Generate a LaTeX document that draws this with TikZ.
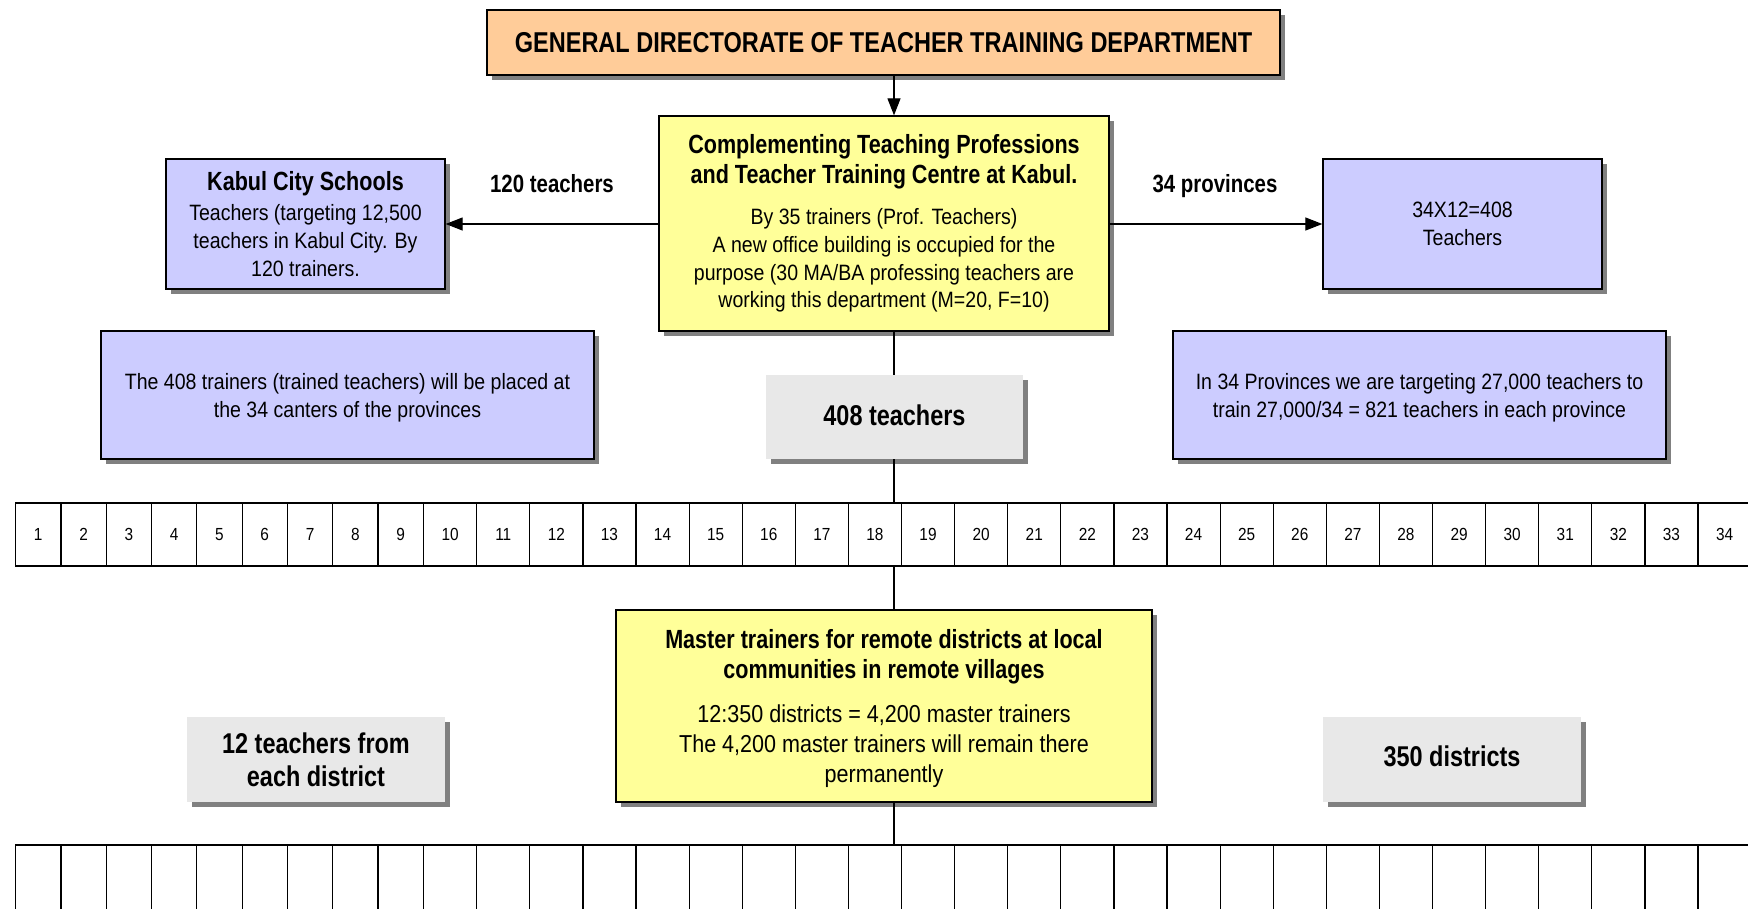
\documentclass[tikz,border=0pt]{standalone}
\usepackage{fontspec}
\setmainfont{Liberation Sans}[FakeStretch=0.88]
\newfontfamily\regfam{Liberation Sans}[FakeStretch=0.88]
\newfontfamily\boldfam{Liberation Sans Bold}[FakeStretch=0.82]
\usetikzlibrary{arrows.meta,shadows,calc}
\definecolor{orangebox}{HTML}{FFCC99}
\definecolor{yellowbox}{HTML}{FFFF99}
\definecolor{bluebox}{HTML}{CCCCFF}
\definecolor{graybox}{HTML}{E8E8E8}
\definecolor{shadowgray}{HTML}{808080}
\newcommand{\txtbody}{\regfam\fontsize{22.2}{27.9}\selectfont}
\newcommand{\txtbodyL}{\regfam\fontsize{24.5}{30}\selectfont}
\newcommand{\txthead}{\boldfam\fontsize{26.3}{30}\selectfont}
\newcommand{\txttitle}{\boldfam\fontsize{28.7}{33}\selectfont}
\newcommand{\txtbig}{\boldfam\fontsize{28.6}{33.4}\selectfont}
\newcommand{\txtcell}{\regfam\fontsize{17.5}{21}\selectfont}
\tikzset{
  shadowed/.style={drop shadow={shadow xshift=5pt,shadow yshift=-5pt,fill=shadowgray,opacity=1}},
  box/.style={draw=black,line width=1.3pt,shadowed,align=center,inner sep=4pt},
  plain/.style={shadowed,align=center,inner sep=4pt,fill=graybox},
  cellbox/.style={draw=black,line width=1.2pt,anchor=north west,inner sep=0pt,outer sep=0pt,font=\txtcell},
  conn/.style={line width=1.2pt},
  arr/.style={line width=1.2pt,-{Triangle[length=17pt,width=13pt]}},
  lbl/.style={font=\boldfam\fontsize{24.9}{30}\selectfont,anchor=base}
}
\begin{document}
\begin{tikzpicture}[x=1pt,y=-1pt]
\useasboundingbox (0,0) rectangle (1748,908);
\clip (0,0) rectangle (1748,908);
\fill[white] (0,0) rectangle (1748,908);
\coordinate (sp) at (894,0);

\node[box,fill=orangebox,minimum width=793pt,minimum height=65pt,font=\txttitle] (top) at (883.5,42.5)
  {GENERAL DIRECTORATE OF TEACHER TRAINING DEPARTMENT};

\node[box,fill=yellowbox,minimum width=450pt,minimum height=215pt,font=\txtbody] (yel1) at (884,223.5)
  {\txthead Complementing Teaching Professions\\[2pt] \txthead and Teacher Training Centre at Kabul.\\[13pt]
   By 35 trainers (Prof. Teachers)\\ A new office building is occupied for the\\
   purpose (30 MA/BA professing teachers are\\ working this department (M=20, F=10)};

\node[box,fill=bluebox,minimum width=279pt,minimum height=130pt,font=\txtbody,text depth=0pt] (kabul) at (305.5,224)
  {\txthead Kabul City Schools\\[1.5pt] Teachers (targeting 12,500\\ teachers in Kabul City. By\\ 120 trainers.};

\node[box,fill=bluebox,minimum width=279pt,minimum height=130pt,font=\txtbody] (prov) at (1462.5,224)
  {34X12=408\\ Teachers};

\node[lbl] (l120) at (552,192) {120 teachers};
\node[lbl] (l34) at (1215,192) {34 provinces};

\node[box,fill=bluebox,minimum width=493pt,minimum height=128pt,font=\txtbody,text depth=0pt] (left2) at (347.5,395)
  {The 408 trainers (trained teachers) will be placed at\\ the 34 canters of the provinces};

\node[box,fill=bluebox,minimum width=493pt,minimum height=128pt,font=\txtbody,text depth=0pt] (right2) at (1419.5,395)
  {In 34 Provinces we are targeting 27,000 teachers to\\ train 27,000/34 = 821 teachers in each province};

\node[plain,minimum width=257pt,minimum height=84pt,font=\txtbig,text depth=4.5pt] (g408) at (894.5,417) {408 teachers};

\foreach \i in {1,...,34}{
  \pgfmathsetmacro{\xl}{\i<10 ? 15.6+(\i-1)*45.3 : 423.6+(\i-10)*53.1}
  \pgfmathsetmacro{\cw}{\i<10 ? 45.3 : 53.1}
  \node[cellbox,minimum width=\cw pt,minimum height=63pt] (c\i) at (\xl,503) {\i};
  \node[cellbox,minimum width=\cw pt,minimum height=90pt] (d\i) at (\xl,845) {};
}
\draw[line width=2.2pt] (d1.north west) -- (d34.north east);

\node[box,fill=yellowbox,minimum width=536pt,minimum height=192pt,font=\txtbodyL,text depth=0pt] (yel2) at (884,706)
  {\txthead Master trainers for remote districts at local\\ \txthead communities in remote villages\\[13.5pt]
   12:350 districts = 4,200 master trainers\\ The 4,200 master trainers will remain there\\ permanently};

\node[plain,minimum width=258pt,minimum height=85pt,font=\txtbig] (g12) at (316,759.5) {12 teachers from\\ each district};
\node[plain,minimum width=258pt,minimum height=85pt,font=\txtbig,text depth=6pt] (g350) at (1452,759.5) {350 districts};

\draw[arr] (top.south -| sp) -- (yel1.north -| sp);
\draw[arr] (yel1.west |- kabul) -- (kabul.east);
\draw[arr] (yel1.east |- prov) -- (prov.west);
\draw[conn] (yel1.south -| sp) -- (g408.north -| sp);
\draw[conn] (g408.south -| sp) -- (c18.north -| sp);
\draw[conn] (c18.south -| sp) -- (yel2.north -| sp);
\draw[conn] (yel2.south -| sp) -- (d18.north -| sp);
\end{tikzpicture}
\end{document}
